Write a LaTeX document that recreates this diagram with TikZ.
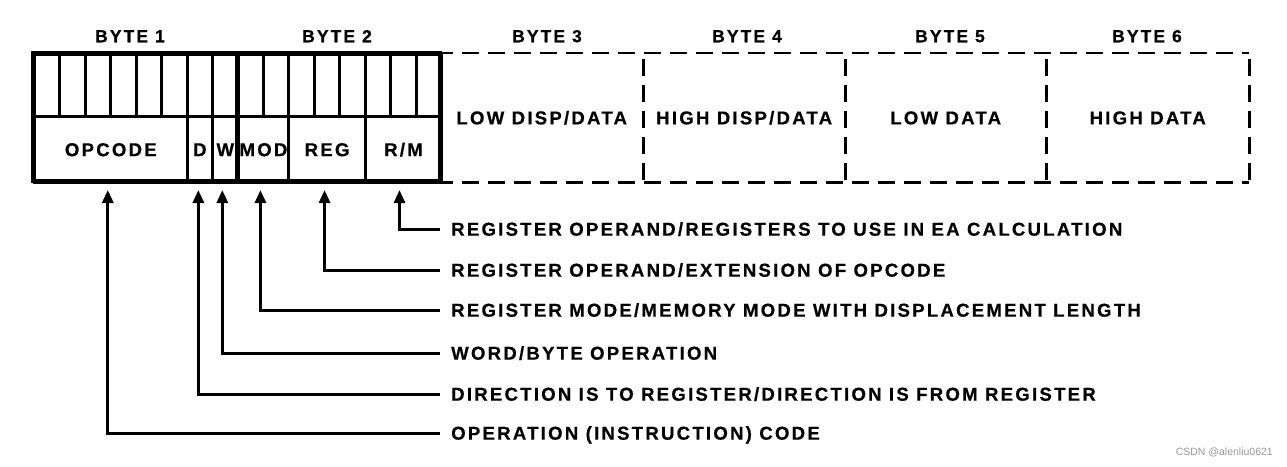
\documentclass[tikz,border=0pt]{standalone}
\usepackage{fontspec}
\setmainfont{Liberation Sans}[LetterSpace=12, BoldFeatures={FakeBold=0.5}]
\newfontfamily\wmfont{Liberation Sans}
\usetikzlibrary{arrows.meta,calc}
\begin{document}
\begin{tikzpicture}[x=1pt,y=-1pt,
  txt/.style={font=\fontsize{18.6}{20}\selectfont\bfseries, text height=13.3pt, text depth=0pt, inner sep=0pt},
  field/.style={txt, draw, line width=3pt, minimum height=66pt, anchor=north west},
  bitcell/.style={draw, line width=3pt, minimum width=25.44pt, minimum height=62pt, anchor=north west, inner sep=0pt},
  dbox/.style={txt, minimum height=129pt, anchor=north west},
  dline/.style={dash pattern=on 17pt off 9pt, line width=2.4pt},
  bytelbl/.style={txt, font=\fontsize{17.5}{19}\selectfont\bfseries, text height=12.5pt},
  lbl/.style={txt, anchor=west, inner xsep=11pt},
  conn/.style={line width=3pt, -{Triangle[length=13pt,width=11pt]}, shorten >=6pt}
]
\useasboundingbox[fill=white] (0,0) rectangle (1287,466);

% dashed bytes 3..6
\node[dbox, minimum width=203pt] (b3) at (440,53) {LOW DISP/DATA};
\node[dbox, minimum width=202pt] (b4) at (643,53) {HIGH DISP/DATA};
\node[dbox, minimum width=201pt] (b5) at (845,53) {LOW DATA};
\node[dbox, minimum width=203pt] (b6) at (1046,53) {HIGH DATA};
\draw[dline, dash phase=4pt] (b3.north west) -- (b6.north east);
\draw[dline, dash phase=4pt] (b3.south west) -- (b6.south east);
\draw[dline, dash phase=-6pt] (b3.north east) -- (b3.south east);
\draw[dline, dash phase=-6pt] (b4.north east) -- (b4.south east);
\draw[dline, dash phase=-6pt] (b5.north east) -- (b5.south east);
\draw[dline, dash phase=-6pt] (b6.north east) -- (b6.south east);

% bit cells of bytes 1 and 2
\foreach \i in {0,...,15} {
  \node[bitcell] (bit\i) at ({33+\i*25.44},53) {};
}

% fields
\node[field, minimum width=152.6pt] (opcode) at (33,115) {OPCODE};
\node[field, minimum width=25.5pt] (d) at (185.6,115) {D};
\node[field, minimum width=25.4pt] (w) at (211.1,115) {W};
\node[field, minimum width=50.9pt] (mod) at (236.5,115) {MOD};
\node[field, minimum width=76.3pt] (reg) at (287.4,115) {REG};
\node[field, minimum width=76.6pt] (rm) at (363.7,115) {R/M};

% outer frame and byte boundary
\draw[line width=4pt] (33,53) rectangle (440,181);
\draw[line width=4pt] (236.5,53) -- (236.5,181);

% byte labels
\node[bytelbl] (y1) at (130,36) {BYTE 1};
\node[bytelbl] (y2) at (337,36) {BYTE 2};
\node[bytelbl] (y3) at (547,36) {BYTE 3};
\node[bytelbl] (y4) at (747,36) {BYTE 4};
\node[bytelbl] (y5) at (950,36) {BYTE 5};
\node[bytelbl] (y6) at (1147,36) {BYTE 6};

% explanation labels
\node[lbl] (l1) at (440,229) {REGISTER OPERAND/REGISTERS TO USE IN EA CALCULATION};
\node[lbl] (l2) at (440,270) {REGISTER OPERAND/EXTENSION OF OPCODE};
\node[lbl] (l3) at (440,310) {REGISTER MODE/MEMORY MODE WITH DISPLACEMENT LENGTH};
\node[lbl] (l4) at (440,353) {WORD/BYTE OPERATION};
\node[lbl] (l5) at (440,394) {DIRECTION IS TO REGISTER/DIRECTION IS FROM REGISTER};
\node[lbl] (l6) at (440,433) {OPERATION (INSTRUCTION) CODE};

% connectors
\draw[conn] (l1.west) -| ([xshift=-4pt]rm.south);
\draw[conn] (l2.west) -| ([xshift=-2.5pt]reg.south);
\draw[conn] (l3.west) -| ([xshift=-3pt]mod.south);
\draw[conn] (l4.west) -| ([xshift=-3pt]w.south);
\draw[conn] (l5.west) -| ([xshift=-1.5pt]d.south);
\draw[conn] (l6.west) -| ([xshift=-3pt]opcode.south);

% watermark
\node[font=\wmfont\fontsize{10.5}{12}\selectfont, text=black!40, anchor=east, inner sep=0pt] (wm) at (1273,452) {CSDN @alenliu0621};
\end{tikzpicture}
\end{document}
